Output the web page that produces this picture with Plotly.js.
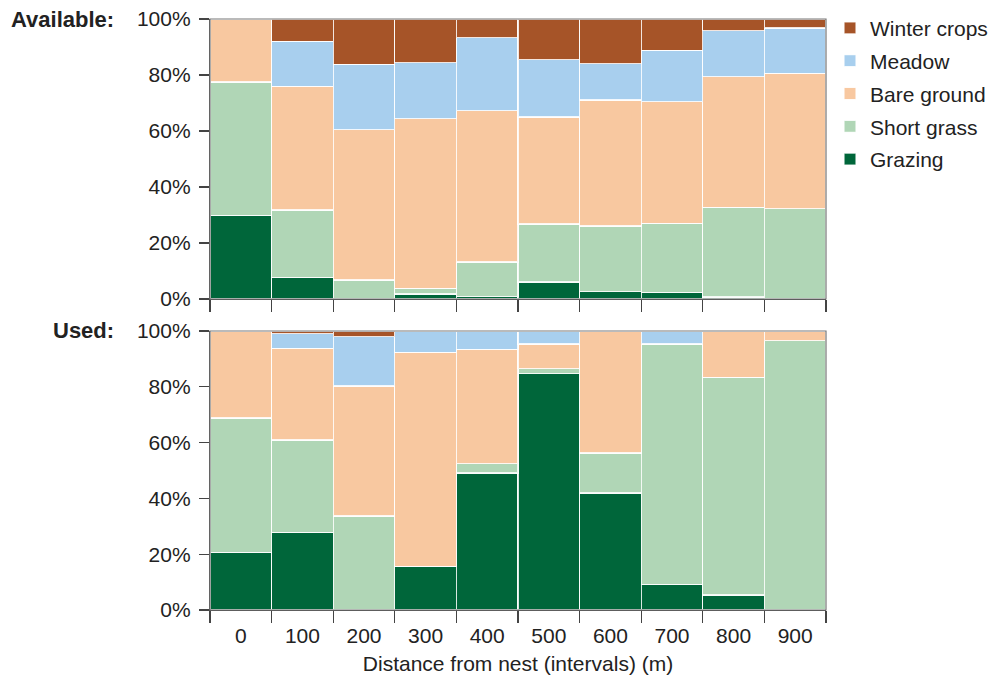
<!DOCTYPE html>
<html>
<head>
<meta charset="utf-8">
<script src="https://cdn.plot.ly/plotly-3.0.1.min.js"></script>
<style>
html,body{margin:0;padding:0;background:#fff;}
#chart{width:1002px;height:679px;}
</style>
</head>
<body>
<div id="chart"></div>
<script>
// Distance intervals (m)
var distances = ["0","100","200","300","400","500","600","700","800","900"];
var categories = ["Grazing","Short grass","Bare ground","Meadow","Winter crops"];

// Available habitat (% per interval), stacked bottom->top
var availGrazing    = [29.9, 7.7, 0.0, 1.8, 0.9, 6.1, 2.6, 2.4, 0.7, 0.0];
var availShortGrass = [47.6, 24.1, 6.8, 2.0, 12.3, 20.7, 23.5, 24.7, 32.0, 32.3];
var availBare       = [22.5, 44.1, 53.7, 60.6, 54.1, 38.2, 45.0, 43.3, 46.7, 48.3];
var availMeadow     = [0.0, 16.1, 23.3, 20.0, 26.0, 20.4, 12.9, 18.4, 16.4, 16.2];
var availWinter     = [0.0, 8.0, 16.2, 15.6, 6.7, 14.6, 16.0, 11.2, 4.2, 3.2];

// Used habitat (% per interval)
var usedGrazing    = [20.7, 27.8, 0.0, 15.6, 49.1, 84.7, 41.9, 9.2, 5.4, 0.0];
var usedShortGrass = [48.1, 33.1, 33.7, 0.0, 3.4, 1.8, 14.4, 86.1, 78.0, 96.5];
var usedBare       = [31.2, 32.9, 46.6, 76.8, 41.0, 8.8, 43.7, 0.0, 16.6, 3.5];
var usedMeadow     = [0.0, 5.2, 17.7, 7.6, 6.5, 4.7, 0.0, 4.7, 0.0, 0.0];
var usedWinter     = [0.0, 1.0, 2.0, 0.0, 0.0, 0.0, 0.0, 0.0, 0.0, 0.0];

var colors = {
  "Grazing": "#00663a",
  "Short grass": "#b0d6b6",
  "Bare ground": "#f8c8a0",
  "Meadow": "#a8cfee",
  "Winter crops": "#a65428"
};

var availSeries = [availGrazing, availShortGrass, availBare, availMeadow, availWinter];
var usedSeries  = [usedGrazing, usedShortGrass, usedBare, usedMeadow, usedWinter];

var xIdx = distances.map(function(d, i){ return i; });

var traces = [];
categories.forEach(function(cat, k){
  var rank = categories.length - k;
  traces.push({
    type: "bar", name: cat, x: xIdx, y: availSeries[k],
    xaxis: "x", yaxis: "y", width: 1,
    marker: {color: colors[cat], line: {color: "rgba(255,255,255,0.85)", width: 1.2}},
    legendgroup: cat, legendrank: rank, showlegend: true, hoverinfo: "skip"
  });
  traces.push({
    type: "bar", name: cat, x: xIdx, y: usedSeries[k],
    xaxis: "x2", yaxis: "y2", width: 1,
    marker: {color: colors[cat], line: {color: "rgba(255,255,255,0.85)", width: 1.2}},
    legendgroup: cat, legendrank: rank, showlegend: false, hoverinfo: "skip"
  });
});

var boundaries = [];
for (var b = 0; b <= distances.length; b++) boundaries.push(b - 0.5);

var fontFam = "Liberation Sans, Arial, sans-serif";
var fs = 21;

function xaxisDef(showLabels, anchor) {
  return {
    anchor: anchor,
    range: [-0.5, distances.length - 0.5],
    tickmode: "array",
    tickvals: xIdx,
    ticktext: distances,
    showticklabels: showLabels,
    ticks: "outside",
    ticklen: 7,
    tickcolor: "rgba(0,0,0,0)",
    showline: true, linecolor: "#444", linewidth: 1.2,
    mirror: false,
    showgrid: false, zeroline: false,
    fixedrange: true,
    tickfont: {family: fontFam, size: fs, color: "#222"},
    minor: {tickmode: "array", tickvals: boundaries, ticks: "outside", ticklen: 12, tickwidth: 1.2, tickcolor: "#444", showgrid: false}
  };
}
function yaxisDef(domain, anchor) {
  return {
    anchor: anchor, domain: domain,
    range: [0, 100],
    tickmode: "array",
    tickvals: [0,20,40,60,80,100],
    ticktext: ["0%","20%","40%","60%","80%","100%"],
    ticks: "outside", ticklen: 10, tickwidth: 1.2, tickcolor: "#444",
    ticklabelstandoff: 4,
    showline: true, linecolor: "#444", linewidth: 1.2,
    showgrid: false, zeroline: false, fixedrange: true,
    tickfont: {family: fontFam, size: fs, color: "#222"}
  };
}

var xa1 = xaxisDef(false, "y");
var xa2 = xaxisDef(true, "y2");
xa2.title = {text: "Distance from nest (intervals) (m)", font: {family: fontFam, size: fs, color: "#222"}, standoff: 9};

var layout = {
  width: 1002, height: 679,
  margin: {l: 210, r: 176, t: 19, b: 69, autoexpand: false},
  paper_bgcolor: "#fff", plot_bgcolor: "#fff",
  barmode: "stack", bargap: 0,
  font: {family: fontFam, size: fs, color: "#222"},
  xaxis: xa1,
  yaxis: yaxisDef([0.5262, 1.0], "x"),
  xaxis2: xa2,
  yaxis2: yaxisDef([0, 0.4721], "x2"),
  legend: {
    x: 1.0065, xanchor: "left", y: 1.019, yanchor: "top",
    traceorder: "grouped", tracegroupgap: 2.5,
    font: {family: fontFam, size: fs, color: "#222"},
    bgcolor: "rgba(0,0,0,0)", itemclick: false, itemdoubleclick: false
  },
  shapes: [
    {type: "rect", xref: "x domain", yref: "y domain", x0: 0, x1: 1, y0: 0, y1: 1, line: {color: "#777", width: 1.2}, layer: "above"},
    {type: "rect", xref: "x2 domain", yref: "y2 domain", x0: 0, x1: 1, y0: 0, y1: 1, line: {color: "#777", width: 1.2}, layer: "above"}
  ],
  annotations: [
    {text: "<b>Available:</b>", xref: "paper", yref: "y", x: -0.153, y: 100, xanchor: "right", yanchor: "middle", showarrow: false, font: {family: fontFam, size: 22, color: "#222"}},
    {text: "<b>Used:</b>", xref: "paper", yref: "y2", x: -0.153, y: 100, xanchor: "right", yanchor: "middle", showarrow: false, font: {family: fontFam, size: 22, color: "#222"}}
  ]
};

Plotly.newPlot("chart", traces, layout, {displayModeBar: false, staticPlot: true});
</script>
</body>
</html>
